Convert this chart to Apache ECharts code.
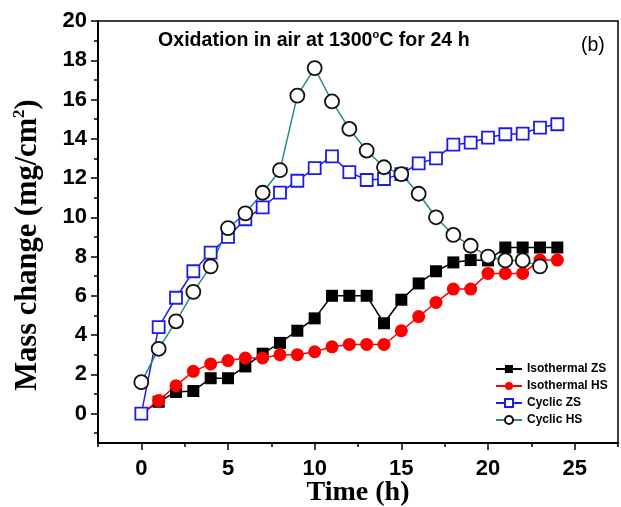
<!DOCTYPE html>
<html>
<head>
<meta charset="utf-8">
<script src="https://cdn.jsdelivr.net/npm/echarts@6/dist/echarts.min.js"></script>
<style>
  html, body { margin: 0; padding: 0; background: #fff; }
  #chart { width: 621px; height: 507px; }
</style>
</head>
<body>
<div id="chart"></div>
<script>
    // time in hours
    var times = [0, 1, 2, 3, 4, 5, 6, 7, 8, 9, 10, 11, 12, 13, 14, 15, 16, 17, 18, 19, 20, 21, 22, 23, 24];
    var isoZS = [0, 0.6, 1.1, 1.15, 1.8, 1.8, 2.4, 3.05, 3.6, 4.22, 4.85, 6.0, 6.0, 6.0, 4.6, 5.8, 6.63, 7.25, 7.7, 7.82, 7.8, 8.46, 8.46, 8.46, 8.46];
    var isoHS = [0, 0.66, 1.42, 2.15, 2.53, 2.7, 2.83, 2.83, 3.0, 3.0, 3.15, 3.4, 3.52, 3.52, 3.52, 4.22, 4.94, 5.66, 6.34, 6.34, 7.14, 7.14, 7.14, 7.82, 7.82];
    var cycZS = [0, 4.4, 5.9, 7.25, 8.2, 9.0, 9.9, 10.5, 11.26, 11.86, 12.5, 13.1, 12.3, 11.9, 11.95, 12.2, 12.75, 13.0, 13.7, 13.8, 14.06, 14.23, 14.26, 14.57, 14.74];
    var cycHS = [1.6, 3.3, 4.7, 6.2, 7.5, 9.45, 10.2, 11.25, 12.4, 16.2, 17.6, 15.9, 14.5, 13.4, 12.55, 12.2, 11.2, 10.0, 9.1, 8.55, 8.0, 7.8, 7.8, 7.5];

    var xTicks = [0, 5, 10, 15, 20, 25];
    var xMinor = [-2.5, 2.5, 7.5, 12.5, 17.5, 22.5, 27.5];
    var yTicks = [0, 2, 4, 6, 8, 10, 12, 14, 16, 18, 20];
    var yMinor = [-1, 1, 3, 5, 7, 9, 11, 13, 15, 17, 19];

    function pairs(vals) {
        return vals.map(function (v, i) { return [times[i], v]; });
    }

    var labelFont = { fontFamily: 'Liberation Sans', fontWeight: 'bold', fontSize: 22, color: '#000' };

    var myChart = echarts.init(document.getElementById('chart'), null, { renderer: 'canvas' });
    option = {
        animation: false,
        backgroundColor: '#fff',
        title: [
            {
                left: 153, top: 24,
                text: '{a|Oxidation in air at 1300}{s|o}{a|C for 24 h}',
                textStyle: {
                    rich: {
                        a: { fontFamily: 'Liberation Sans', fontWeight: 'bold', fontSize: 19.6, color: '#000', lineHeight: 24 },
                        s: { fontFamily: 'Liberation Sans', fontWeight: 'bold', fontSize: 11, color: '#000', lineHeight: 24, verticalAlign: 'top' }
                    }
                }
            },
            {
                left: 576, top: 31,
                text: '(b)',
                textStyle: { fontFamily: 'Liberation Sans', fontWeight: 'normal', fontSize: 19.5, color: '#000' }
            }
        ],
        grid: {
            left: 98, right: 3, top: 21, bottom: 64,
            outerBoundsMode: 'none',
            show: true, borderColor: '#000', borderWidth: 1.5
        },
        legend: {
            left: 490, top: 358,
            orient: 'vertical',
            itemWidth: 26, itemHeight: 10, itemGap: 5,
            textStyle: { fontFamily: 'Liberation Sans', fontWeight: 'bold', fontSize: 12, color: '#000' },
            data: ['Isothermal ZS', 'Isothermal HS', 'Cyclic ZS', 'Cyclic HS']
        },
        xAxis: [
            {
                type: 'value', min: -2.5, max: 27.5,
                name: 'Time (h)', nameLocation: 'middle', nameGap: 36, nameMoveOverlap: false,
                nameTextStyle: { fontFamily: 'Liberation Serif', fontWeight: 'bold', fontSize: 28, color: '#000' },
                axisLine: { onZero: false, lineStyle: { color: '#000', width: 2 } },
                axisTick: { customValues: xTicks, length: 7, lineStyle: { color: '#000', width: 1.5 } },
                axisLabel: Object.assign({ customValues: xTicks, margin: 15 }, labelFont),
                splitLine: { show: false }
            },
            {
                type: 'value', min: -2.5, max: 27.5, position: 'bottom', offset: 0,
                axisLine: { show: false, onZero: false },
                axisTick: { customValues: xMinor, length: 4, lineStyle: { color: '#000', width: 1.5 } },
                axisLabel: { show: false },
                splitLine: { show: false }
            }
        ],
        yAxis: [
            {
                type: 'value', min: -1.5, max: 20,
                name: '{n|Mass change (mg/cm}{s|2}{n|)}', nameLocation: 'middle', nameGap: 53, nameMoveOverlap: false,
                nameTextStyle: {
                    padding: [0, 26, 0, 0],
                    rich: {
                        n: { fontFamily: 'Liberation Serif', fontWeight: 'bold', fontSize: 30.5, color: '#000', lineHeight: 34 },
                        s: { fontFamily: 'Liberation Serif', fontWeight: 'bold', fontSize: 17, color: '#000', lineHeight: 34, verticalAlign: 'top' }
                    }
                },
                axisLine: { onZero: false, lineStyle: { color: '#000', width: 2 } },
                axisTick: { customValues: yTicks, length: 7, lineStyle: { color: '#000', width: 1.5 } },
                axisLabel: Object.assign({ customValues: yTicks, margin: 11 }, labelFont),
                splitLine: { show: false }
            },
            {
                type: 'value', min: -1.5, max: 20, position: 'left', offset: 0,
                axisLine: { show: false, onZero: false },
                axisTick: { customValues: yMinor, length: 4, lineStyle: { color: '#000', width: 1.5 } },
                axisLabel: { show: false },
                splitLine: { show: false }
            }
        ],
        series: [
            {
                name: 'Isothermal ZS', type: 'line', data: pairs(isoZS),
                symbol: 'rect', symbolSize: 12,
                lineStyle: { color: '#000', width: 1.5 },
                itemStyle: { color: '#000' }
            },
            {
                name: 'Isothermal HS', type: 'line', data: pairs(isoHS),
                symbol: 'circle', symbolSize: 13,
                lineStyle: { color: '#ff0000', width: 1.5 },
                itemStyle: { color: '#ff0000' }
            },
            {
                name: 'Cyclic ZS', type: 'line', data: pairs(cycZS),
                symbol: 'rect', symbolSize: 12,
                lineStyle: { color: '#1c1cf0', width: 1.5 },
                itemStyle: { color: '#fff', borderColor: '#1c1cf0', borderWidth: 1.8 }
            },
            {
                name: 'Cyclic HS', type: 'line', data: pairs(cycHS),
                symbol: 'circle', symbolSize: 14,
                lineStyle: { color: '#2a8a8a', width: 1.5 },
                itemStyle: { color: '#fff', borderColor: '#111', borderWidth: 1.8 }
            }
        ]
    };
    myChart.setOption(option);
</script>
</body>
</html>
